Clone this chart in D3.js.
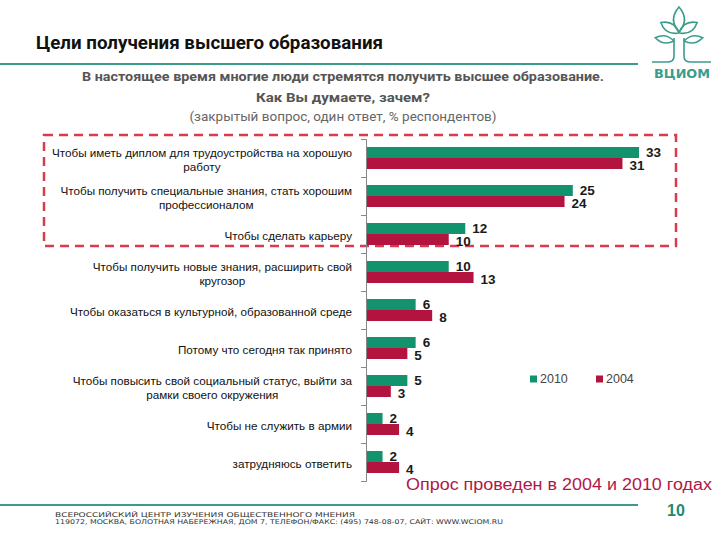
<!DOCTYPE html>
<html><head><meta charset="utf-8">
<script src="https://cdn.jsdelivr.net/npm/d3@7/dist/d3.min.js"></script>
<style>body{margin:0;background:#fff}svg{display:block}</style>
</head><body>
<svg id="c" width="720" height="540"></svg>
<script>
const categories = [
  ["Чтобы иметь диплом для трудоустройства на хорошую", "работу"],
  ["Чтобы получить специальные знания, стать хорошим", "профессионалом"],
  ["Чтобы сделать карьеру"],
  ["Чтобы получить новые знания, расширить свой", "кругозор"],
  ["Чтобы оказаться в культурной, образованной среде"],
  ["Потому что сегодня так принято"],
  ["Чтобы повысить свой социальный статус, выйти за", "рамки своего окружения"],
  ["Чтобы не служить в армии"],
  ["затрудняюсь ответить"]
];
const seriesNames = ["2010", "2004"];
const values2010 = [33, 25, 12, 10, 6, 6, 5, 2, 2];
const values2004 = [31, 24, 10, 13, 8, 5, 3, 4, 4];
const titleText = "Цели получения высшего образования";
const subtitleLines = ["В настоящее время многие люди стремятся получить высшее образование.", "Как Вы думаете, зачем?", "(закрытый вопрос, один ответ, % респондентов)"];
const noteText = "Опрос проведен в 2004 и 2010 годах";
const pageNumber = "10";
const footerLines = ["ВСЕРОССИЙСКИЙ ЦЕНТР ИЗУЧЕНИЯ ОБЩЕСТВЕННОГО МНЕНИЯ", "119072, МОСКВА, БОЛОТНАЯ НАБЕРЕЖНАЯ, ДОМ 7, ТЕЛЕФОН/ФАКС: (495) 748-08-07, САЙТ: WWW.WCIOM.RU"];
const logoText = "ВЦИОМ";

const GREEN = "#12936e", RED = "#b3133f", TEAL = "#3b9c8c", DASH = "#d83c4c";
const svg = d3.select("#c");
const font = "'Liberation Sans', Arial, sans-serif";

// header
svg.append("text").attr("x", 36).attr("y", 49).attr("font-family", "Roboto, sans-serif").attr("font-weight", "bold")
  .attr("font-size", 17.5).attr("fill", "#111").attr("textLength", 347).attr("lengthAdjust", "spacingAndGlyphs").text(titleText);
svg.append("line").attr("x1", 0).attr("x2", 638).attr("y1", 64).attr("y2", 64).attr("stroke", TEAL).attr("stroke-width", 2);
const subY = [81, 102, 121], subW = [522, 174, 307];
subtitleLines.forEach((t, i) => {
  svg.append("text").attr("x", 343).attr("y", subY[i]).attr("text-anchor", "middle")
    .attr("font-family", "Roboto, sans-serif").attr("font-weight", i < 2 ? "bold" : "normal").attr("font-size", 13)
    .attr("fill", i < 2 ? "#555" : "#666").attr("textLength", subW[i]).attr("lengthAdjust", "spacingAndGlyphs").text(t);
});

// logo
const logo = svg.append("g").attr("fill", "none").attr("stroke", TEAL).attr("stroke-width", 1.6);
function leaf(cx, cy, len, w, ang) {
  logo.append("path").attr("transform", `translate(${cx},${cy}) rotate(${ang})`)
    .attr("d", `M0,0 Q${w},${-len/2} 0,${-len} Q${-w},${-len/2} 0,0`);
}
leaf(679, 32, 25, 11, 0);
leaf(679, 33, 21, 9, -60);
leaf(679, 33, 21, 9, 60);
leaf(674, 41, 19, 7, -80);
leaf(684, 41, 19, 7, 80);
logo.append("path").attr("d", "M674,38 L674,56 Q674,62 668,62 L652,62");
logo.append("path").attr("d", "M684,38 L684,56 Q684,62 690,62 L711,62");
svg.append("text").attr("x", 682).attr("y", 78).attr("text-anchor", "middle").attr("font-family", "'DejaVu Sans', sans-serif")
  .attr("font-weight", "bold").attr("font-size", 12).attr("fill", TEAL).attr("textLength", 56).attr("lengthAdjust", "spacingAndGlyphs").text(logoText);

// scales
const x = d3.scaleLinear().domain([0, 33]).range([366, 639]);
const y = d3.scaleBand().domain(d3.range(categories.length)).range([139, 481]);
const sub = d3.scaleBand().domain(seriesNames).range([8, 30]);
const color = d3.scaleOrdinal().domain(seriesNames).range([GREEN, RED]);
const data = categories.map((c, i) => ({ i, vals: [{ s: "2010", v: values2010[i] }, { s: "2004", v: values2004[i] }] }));

// dashed highlight
svg.append("rect").attr("x", 44).attr("y", 135).attr("width", 632).attr("height", 111)
  .attr("fill", "none").attr("stroke", DASH).attr("stroke-width", 2.5).attr("stroke-dasharray", "9,6");

// bars
const groups = svg.selectAll("g.cat").data(data).join("g").attr("class", "cat").attr("transform", d => `translate(0,${y(d.i)})`);
groups.selectAll("rect").data(d => d.vals).join("rect")
  .attr("x", x(0)).attr("y", d => sub(d.s)).attr("width", d => x(d.v) - x(0)).attr("height", sub.bandwidth()).attr("fill", d => color(d.s));
groups.selectAll("text.v").data(d => d.vals).join("text").attr("class", "v")
  .attr("x", d => x(d.v) + 7).attr("y", d => sub(d.s) + sub.bandwidth() / 2 + (d.s === "2010" ? 0 : 1.5)).attr("dominant-baseline", "central")
  .attr("font-family", font).attr("font-weight", "bold").attr("font-size", 13.5).attr("fill", "#1a1a1a").text(d => d.v);

// axis
const axis = d3.axisLeft(d3.scaleLinear().domain([0, categories.length]).range([139, 481]))
  .ticks(categories.length).tickSize(5).tickFormat("");
const ax = svg.append("g").attr("transform", `translate(${x(0)},0)`).call(axis);
ax.select(".domain").attr("stroke", "#888");
ax.selectAll(".tick line").attr("stroke", "#888");

// category labels
const right = 352;
categories.forEach((lines, i) => {
  const cy = y(i) + y.bandwidth() / 2 + 1;
  const t = svg.append("text").attr("font-family", font).attr("font-size", 11.7).attr("fill", "#111");
  const spans = lines.map((l, k) => t.append("tspan").attr("y", cy + (k - (lines.length - 1) / 2) * 14)
    .attr("dominant-baseline", "central").text(l));
  const maxW = d3.max(spans, s => s.node().getComputedTextLength());
  spans.forEach(s => s.attr("x", right - maxW / 2).attr("text-anchor", "middle"));
});

// legend
const lg = svg.append("g").attr("transform", "translate(530,379)");
seriesNames.forEach((s, k) => {
  const g = lg.append("g").attr("transform", `translate(${k * 66},0)`);
  g.append("rect").attr("x", 0).attr("y", -3.5).attr("width", 7).attr("height", 7).attr("fill", color(s));
  g.append("text").attr("x", 10).attr("y", 0).attr("dominant-baseline", "central").attr("font-family", font)
    .attr("font-size", 12.5).attr("fill", "#444").text(s);
});

// footer
svg.append("text").attr("x", 406).attr("y", 490).attr("font-family", font).attr("font-size", 16).attr("fill", "#b0184a")
  .attr("textLength", 306).attr("lengthAdjust", "spacingAndGlyphs").text(noteText);
svg.append("line").attr("x1", 0).attr("x2", 638).attr("y1", 505).attr("y2", 505).attr("stroke", TEAL).attr("stroke-width", 2);
svg.append("text").attr("x", 676).attr("y", 516).attr("text-anchor", "middle").attr("font-family", font).attr("font-weight", "bold")
  .attr("font-size", 16).attr("fill", "#1f8a6e").text(pageNumber);
const fW = [300, 448], fY = [517, 523.5];
footerLines.forEach((t, i) => {
  svg.append("text").attr("x", 55).attr("y", fY[i]).attr("font-family", "'DejaVu Sans', sans-serif").attr("font-size", 6.5)
    .attr("fill", "#333").attr("textLength", fW[i]).attr("lengthAdjust", "spacingAndGlyphs").text(t);
});
</script>
</body></html>
